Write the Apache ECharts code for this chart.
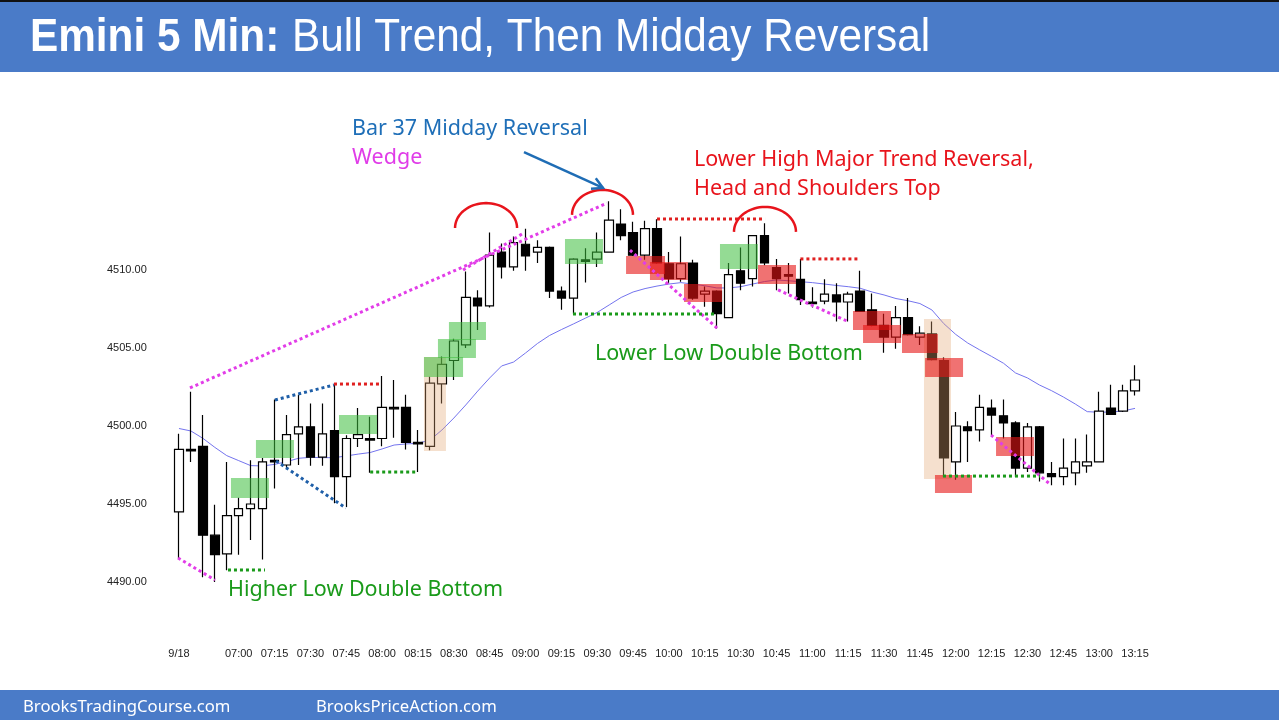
<!DOCTYPE html>
<html>
<head>
<meta charset="utf-8">
<script src="https://cdn.jsdelivr.net/npm/echarts@6/dist/echarts.min.js"></script>
<style>
  html, body { margin: 0; padding: 0; background: #fff; }
  #main { width: 1279px; height: 720px; }
</style>
</head>
<body>
<div id="main"></div>
<script>
// Emini 5 min bars, 9/18, 06:35 - 13:15
var times = [
  '06:35','06:40','06:45','06:50','06:55',
  '07:00','07:05','07:10','07:15','07:20','07:25','07:30','07:35','07:40','07:45','07:50','07:55',
  '08:00','08:05','08:10','08:15','08:20','08:25','08:30','08:35','08:40','08:45','08:50','08:55',
  '09:00','09:05','09:10','09:15','09:20','09:25','09:30','09:35','09:40','09:45','09:50','09:55',
  '10:00','10:05','10:10','10:15','10:20','10:25','10:30','10:35','10:40','10:45','10:50','10:55',
  '11:00','11:05','11:10','11:15','11:20','11:25','11:30','11:35','11:40','11:45','11:50','11:55',
  '12:00','12:05','12:10','12:15','12:20','12:25','12:30','12:35','12:40','12:45','12:50','12:55',
  '13:00','13:05','13:10','13:15'
];
var opens = [
  4494.5, 4498.5, 4498.7, 4493.0, 4491.8, 4494.25, 4494.7, 4494.7, 4497.8, 4497.5,
  4499.5, 4499.95, 4498.0, 4499.7, 4496.75, 4499.2, 4499.2, 4499.2, 4501.2, 4501.2,
  4498.95, 4498.7, 4502.7, 4504.2, 4505.2, 4508.2, 4507.7, 4511.15, 4510.2, 4511.65,
  4511.15, 4511.45, 4508.65, 4508.2, 4510.65, 4510.7, 4511.15, 4512.95, 4512.4, 4510.95,
  4512.65, 4510.4, 4509.45, 4510.45, 4508.45, 4508.65, 4506.95, 4509.95, 4509.45, 4512.2,
  4510.15, 4509.7, 4509.4, 4507.95, 4508.0, 4508.4, 4507.95, 4508.65, 4507.45, 4506.45,
  4505.7, 4506.95, 4505.7, 4505.9, 4504.2, 4497.7, 4499.95, 4499.75, 4501.15, 4500.65,
  4500.2, 4497.3, 4499.95, 4496.95, 4496.75, 4497.0, 4497.45, 4497.7, 4501.15, 4500.95,
  4502.25
];
var closes = [
  4498.5, 4498.4, 4493.0, 4491.75, 4494.25, 4494.7, 4495.0, 4497.7, 4497.7, 4499.45,
  4499.95, 4498.0, 4499.5, 4496.75, 4499.2, 4499.45, 4499.1, 4501.2, 4501.1, 4498.95,
  4498.85, 4502.75, 4503.95, 4505.45, 4508.25, 4507.7, 4510.95, 4510.2, 4511.75, 4510.9,
  4511.45, 4508.65, 4508.2, 4510.7, 4510.55, 4511.15, 4513.2, 4512.2, 4510.95, 4512.65,
  4510.45, 4509.45, 4510.4, 4508.2, 4508.65, 4507.2, 4509.7, 4509.15, 4512.2, 4510.45,
  4509.45, 4509.6, 4508.1, 4507.85, 4508.45, 4507.95, 4508.45, 4507.35, 4506.45, 4505.7,
  4506.95, 4505.85, 4505.95, 4504.25, 4497.95, 4500.0, 4499.7, 4501.2, 4500.7, 4500.2,
  4497.3, 4499.95, 4497.0, 4496.75, 4497.3, 4497.7, 4497.7, 4500.95, 4500.75, 4502.25,
  4502.95
];
var lows = [
  4491.5, 4497.7, 4490.3, 4490.0, 4490.75, 4491.75, 4492.7, 4491.45, 4496.0, 4497.3,
  4497.5, 4497.45, 4497.45, 4495.05, 4494.8, 4498.65, 4497.0, 4498.7, 4499.25, 4498.5,
  4497.05, 4498.45, 4501.45, 4502.95, 4505.0, 4506.15, 4507.6, 4509.45, 4509.95, 4509.95,
  4510.45, 4508.2, 4507.45, 4507.2, 4509.2, 4510.2, 4511.1, 4511.9, 4510.9, 4510.65,
  4510.4, 4509.15, 4509.25, 4508.1, 4507.65, 4506.25, 4506.95, 4508.7, 4508.95, 4510.3,
  4508.7, 4508.5, 4507.75, 4507.6, 4507.8, 4506.7, 4506.7, 4507.3, 4506.4, 4504.7,
  4504.95, 4505.8, 4505.2, 4504.2, 4496.75, 4496.55, 4497.7, 4499.0, 4499.4, 4499.2,
  4496.75, 4497.05, 4496.45, 4496.2, 4496.2, 4496.2, 4497.0, 4497.7, 4500.7, 4500.9,
  4501.95
];
var highs = [
  4499.5, 4502.2, 4500.7, 4494.95, 4497.7, 4495.4, 4497.8, 4497.95, 4501.7, 4500.7,
  4502.0, 4501.45, 4501.45, 4502.65, 4499.4, 4501.15, 4500.6, 4503.2, 4502.95, 4502.0,
  4499.75, 4503.15, 4504.45, 4505.6, 4509.9, 4508.7, 4512.4, 4511.7, 4512.15, 4512.65,
  4511.9, 4511.5, 4508.95, 4510.75, 4511.4, 4512.4, 4514.4, 4513.9, 4513.1, 4513.15,
  4513.25, 4511.15, 4512.15, 4510.65, 4508.95, 4508.7, 4510.45, 4511.45, 4512.25, 4513.0,
  4510.7, 4510.45, 4510.7, 4508.9, 4509.4, 4509.15, 4508.6, 4509.95, 4508.5, 4507.2,
  4507.7, 4508.2, 4506.4, 4506.7, 4504.4, 4500.9, 4500.3, 4502.0, 4501.7, 4501.7,
  4500.3, 4500.2, 4500.0, 4497.7, 4499.2, 4499.2, 4499.45, 4502.2, 4502.65, 4502.65,
  4503.9
];
// 20 bar EMA as drawn on the chart
var ema20 = [
  4499.84, 4499.68, 4499.21, 4498.63, 4498.1, 4497.78, 4497.46, 4497.44, 4497.54, 4497.71,
  4497.93, 4497.99, 4497.97, 4497.97, 4498.08, 4498.2, 4498.3, 4498.53, 4498.78, 4498.85,
  4498.89, 4499.1, 4499.74, 4500.51, 4501.35, 4502.24, 4503.08, 4503.85, 4504.1, 4504.68,
  4505.29, 4505.8, 4506.18, 4506.54, 4506.91, 4507.28, 4507.76, 4508.24, 4508.59, 4508.81,
  4508.97, 4509.1, 4509.19, 4509.1, 4508.99, 4508.85, 4508.85, 4508.93, 4509.1, 4509.26,
  4509.36, 4509.31, 4509.25, 4509.19, 4509.1, 4509.01, 4508.93, 4508.83, 4508.59, 4508.4,
  4508.17, 4508.03, 4507.85, 4507.44, 4506.56, 4505.87, 4505.32, 4504.88, 4504.46, 4504.02,
  4503.4, 4503.08, 4502.63, 4502.27, 4501.86, 4501.41, 4500.92, 4500.88, 4500.9, 4500.96,
  4501.13
];
var yTicks = [4490, 4495, 4500, 4505, 4510];

// highlight boxes [barFrom, barTo, priceLow, priceHigh]
var greenBoxes = [
  [4.35, 7.53, 4495.38, 4496.67], [6.44, 9.62, 4497.95, 4499.1], [13.39, 16.57, 4499.49, 4500.71],
  [20.5, 23.77, 4503.14, 4504.42], [21.67, 24.85, 4504.36, 4505.58], [22.59, 25.69, 4505.51, 4506.67],
  [32.3, 35.48, 4510.38, 4511.99], [45.27, 48.45, 4510.06, 4511.67]
];
var redBoxes = [
  [37.41, 40.67, 4509.74, 4510.9], [39.41, 42.59, 4509.36, 4510.51], [42.26, 45.44, 4507.95, 4509.1],
  [48.45, 51.63, 4509.1, 4510.32], [56.4, 59.58, 4506.15, 4507.37], [57.24, 60.42, 4505.32, 4506.47],
  [60.5, 63.5, 4504.68, 4505.9], [62.43, 65.61, 4503.14, 4504.36], [63.26, 66.36, 4495.71, 4496.86],
  [68.37, 71.55, 4498.08, 4499.29]
];
var tanBoxes = [
  [20.5, 22.34, 4498.4, 4504.42], [62.34, 64.6, 4496.6, 4506.86]
];
// dotted lines [bar0, price0, bar1, price1]
var magentaLines = [
  [-0.08, 4491.54, 3.01, 4490.13], [0.92, 4502.44, 35.82, 4514.29], [23.77, 4510.0, 28.9, 4512.4],
  [37.74, 4511.28, 45.02, 4506.28], [50.13, 4508.72, 55.9, 4506.73], [67.95, 4499.42, 72.97, 4496.22]
];
var blueLines = [
  [8.03, 4501.67, 12.97, 4502.63], [8.12, 4497.76, 13.97, 4494.74]
];
var redLines = [
  [12.97, 4502.69, 16.99, 4502.69], [40, 4513.27, 49.04, 4513.27], [52, 4510.71, 57, 4510.71]
];
var greenLines = [
  [4.1, 4490.77, 7.2, 4490.77], [16, 4497.05, 20, 4497.05], [32.97, 4507.18, 45.02, 4507.18],
  [63.93, 4496.79, 72.05, 4496.79]
];
// head and shoulders arcs [barLeft, barRight, basePrice, topPrice]
var arcs = [
  [23.1, 28.29, 4512.69, 4514.29], [32.89, 37.99, 4513.53, 4515.13], [46.44, 51.63, 4512.44, 4514.04]
];
// arrow to bar 37 [bar0, price0, bar1, price1]
var arrows = [[28.87, 4517.56, 35.48, 4515.26]];

var candles = opens.map(function (o, i) { return [o, closes[i], lows[i], highs[i]]; });

function boxRender(color) {
  return function (params, api) {
    var a = api.coord([api.value(0), api.value(3)]);
    var b = api.coord([api.value(1), api.value(2)]);
    return {
      type: 'rect',
      shape: { x: a[0], y: a[1], width: b[0] - a[0], height: b[1] - a[1] },
      style: { fill: color }
    };
  };
}
function dotRender(color) {
  return function (params, api) {
    var a = api.coord([api.value(0), api.value(1)]);
    var b = api.coord([api.value(2), api.value(3)]);
    return {
      type: 'line',
      shape: { x1: a[0], y1: a[1], x2: b[0], y2: b[1] },
      style: { stroke: color, lineWidth: 3, lineDash: [3, 3] }
    };
  };
}
function arcRender(params, api) {
  var l = api.coord([api.value(0), api.value(2)]);
  var r = api.coord([api.value(1), api.value(2)]);
  var t = api.coord([(api.value(0) + api.value(1)) / 2, api.value(3)]);
  var cx = (l[0] + r[0]) / 2, rx = (r[0] - l[0]) / 2, ry = l[1] - t[1];
  var pts = [];
  for (var k = 0; k <= 36; k++) {
    var ang = Math.PI * k / 36;
    pts.push([cx - rx * Math.cos(ang), l[1] - ry * Math.sin(ang)]);
  }
  return { type: 'polyline', shape: { points: pts }, style: { stroke: '#e8141c', lineWidth: 2.5, fill: null } };
}
function arrowRender(params, api) {
  var a = api.coord([api.value(0), api.value(1)]);
  var b = api.coord([api.value(2), api.value(3)]);
  var ang = Math.atan2(b[1] - a[1], b[0] - a[0]);
  var len = 12, spread = 0.5;
  var h1 = [b[0] - len * Math.cos(ang - spread), b[1] - len * Math.sin(ang - spread)];
  var h2 = [b[0] - len * Math.cos(ang + spread), b[1] - len * Math.sin(ang + spread)];
  return {
    type: 'group',
    children: [
      { type: 'line', shape: { x1: a[0], y1: a[1], x2: b[0], y2: b[1] }, style: { stroke: '#1f6db5', lineWidth: 2.5 } },
      { type: 'polyline', shape: { points: [h1, b, h2] }, style: { stroke: '#1f6db5', lineWidth: 2.5, fill: null } }
    ]
  };
}

var noteFont = "'Noto Sans', 'Open Sans', sans-serif";
function note(text, x, y, color) {
  return {
    type: 'text', x: x, y: y, z: 100,
    style: { text: text, fill: color, fontSize: 21.5, fontFamily: noteFont, textVerticalAlign: 'middle' }
  };
}

var chart = echarts.init(document.getElementById('main'));
chart.setOption({
  animation: false,
  backgroundColor: '#ffffff',
  grid: { left: 173, right: 138, top: 36, bottom: 60 },
  xAxis: [
    {
      type: 'category',
      data: times,
      offset: -14,
      axisLine: { show: false },
      axisTick: { show: false },
      splitLine: { show: false },
      axisLabel: {
        margin: 2,
        fontSize: 11,
        color: '#222',
        fontFamily: "'Liberation Sans Narrow', 'Liberation Sans', sans-serif",
        interval: function (idx) { return idx === 0 || (idx >= 5 && (idx - 5) % 3 === 0); },
        formatter: function (v, idx) { return idx === 0 ? '9/18' : v; }
      }
    },
    { type: 'value', min: -0.5, max: 80.5, show: false }
  ],
  yAxis: {
    type: 'value',
    min: 4485,
    max: 4525,
    interval: 5,
    axisLine: { show: false },
    axisTick: { show: false },
    splitLine: { show: false },
    axisLabel: {
      align: 'left',
      margin: 66,
      fontSize: 11,
      color: '#222',
      fontFamily: "'Liberation Sans', Arial, sans-serif",
      formatter: function (v) { return yTicks.indexOf(v) >= 0 ? v.toFixed(2) : ''; }
    }
  },
  series: [
    {
      name: 'EMA',
      type: 'line',
      data: ema20,
      symbol: 'none',
      z: 2,
      lineStyle: { color: '#7474ee', width: 1 }
    },
    {
      name: 'ES',
      type: 'candlestick',
      data: candles,
      barWidth: 9,
      z: 3,
      itemStyle: {
        color: '#ffffff', color0: '#000000',
        borderColor: '#000000', borderColor0: '#000000', borderColorDoji: '#000000',
        borderWidth: 1.2
      }
    },
    { type: 'custom', xAxisIndex: 1, data: tanBoxes, z: 4, renderItem: boxRender('rgba(225,165,115,0.35)') },
    { type: 'custom', xAxisIndex: 1, data: greenBoxes, z: 4, renderItem: boxRender('rgba(60,190,60,0.55)') },
    { type: 'custom', xAxisIndex: 1, data: redBoxes, z: 4, renderItem: boxRender('rgba(230,20,20,0.6)') },
    { type: 'custom', xAxisIndex: 1, data: magentaLines, z: 5, renderItem: dotRender('#e23de8') },
    { type: 'custom', xAxisIndex: 1, data: blueLines, z: 5, renderItem: dotRender('#1f5fa8') },
    { type: 'custom', xAxisIndex: 1, data: redLines, z: 5, renderItem: dotRender('#e02020') },
    { type: 'custom', xAxisIndex: 1, data: greenLines, z: 5, renderItem: dotRender('#1a9a1a') },
    { type: 'custom', xAxisIndex: 1, data: arcs, z: 5, renderItem: arcRender },
    { type: 'custom', xAxisIndex: 1, data: arrows, z: 5, renderItem: arrowRender }
  ],
  graphic: [
    { type: 'rect', shape: { x: 0, y: 0, width: 1279, height: 72 }, style: { fill: '#4a7bc8' }, z: 50 },
    { type: 'rect', shape: { x: 0, y: 0, width: 1279, height: 2 }, style: { fill: '#111' }, z: 51 },
    {
      type: 'text', x: 30, y: 38, scaleX: 0.92, z: 52,
      style: { text: 'Emini 5 Min:', fill: '#fff', fontSize: 46, fontWeight: 'bold',
        fontFamily: "'Liberation Sans', Arial, sans-serif", textVerticalAlign: 'middle' }
    },
    {
      type: 'text', x: 292, y: 38, scaleX: 0.92, z: 52,
      style: { text: 'Bull Trend, Then Midday Reversal', fill: '#fff', fontSize: 46,
        fontFamily: "'Liberation Sans', Arial, sans-serif", textVerticalAlign: 'middle' }
    },
    { type: 'rect', shape: { x: 0, y: 690, width: 1279, height: 30 }, style: { fill: '#4a7bc8' }, z: 50 },
    {
      type: 'text', x: 23, y: 707, z: 52,
      style: { text: 'BrooksTradingCourse.com', fill: '#fff', fontSize: 16.7, fontFamily: noteFont, textVerticalAlign: 'middle' }
    },
    {
      type: 'text', x: 316, y: 707, z: 52,
      style: { text: 'BrooksPriceAction.com', fill: '#fff', fontSize: 16.7, fontFamily: noteFont, textVerticalAlign: 'middle' }
    },
    note('Bar 37 Midday Reversal', 352, 129, '#1f6fb8'),
    note('Wedge', 352, 158, '#e03ce8'),
    note('Lower High Major Trend Reversal,', 694, 160, '#e8141c'),
    note('Head and Shoulders Top', 694, 189, '#e8141c'),
    note('Lower Low Double Bottom', 595, 354, '#1a9a1a'),
    note('Higher Low Double Bottom', 228, 590, '#1a9a1a')
  ]
});
</script>
</body>
</html>
